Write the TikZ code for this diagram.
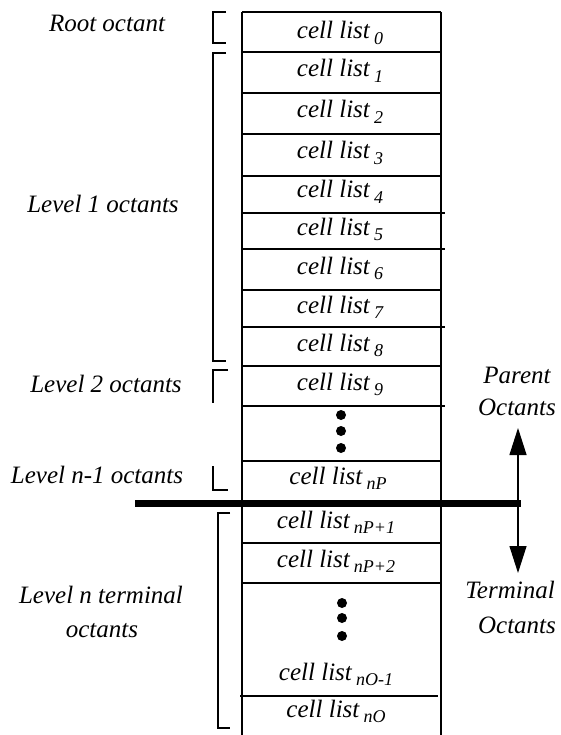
\documentclass[tikz,border=0pt]{standalone}
\usepackage{fontspec}
\setmainfont{Liberation Serif}
\usetikzlibrary{arrows.meta}
\newcommand{\cl}[1]{cell list\,\raisebox{-0.22em}{\fontsize{18}{18}\selectfont #1}}
\begin{document}
\begin{tikzpicture}[x=1pt,y=-1pt,
  lbl/.style={font=\fontsize{25}{30}\selectfont\itshape, inner sep=0pt, anchor=base},
  rowline/.style={line width=1.1pt},
  brk/.style={line width=2.4pt},
  dot/.style={circle, fill=black, inner sep=0pt, minimum size=10pt}]
\useasboundingbox (0,0) rectangle (560,735);
% outline
\draw[line width=2pt] (242,12) -- (441,12);
\draw[rowline] (242,12) -- (242,735);
\draw[rowline] (441,12) -- (441,735);
\foreach \y in {52,93,134,176,290,366,461,543,583} \draw[rowline] (242,\y) -- (441,\y);
\foreach \y in {213,249,327,406} \draw[rowline] (242,\y) -- (445,\y);
\draw[rowline] (240,696) -- (438,696);
% cells
\node[lbl] (c0) at (340,39) {\cl{0}};
\node[lbl] (c1) at (340,77) {\cl{1}};
\node[lbl] (c2) at (340,118) {\cl{2}};
\node[lbl] (c3) at (340,159) {\cl{3}};
\node[lbl] (c4) at (340,198) {\cl{4}};
\node[lbl] (c5) at (340,235) {\cl{5}};
\node[lbl] (c6) at (340,274) {\cl{6}};
\node[lbl] (c7) at (340,313) {\cl{7}};
\node[lbl] (c8) at (340,351) {\cl{8}};
\node[lbl] (c9) at (340,390) {\cl{9}};
\node[dot] (d1) at (341,415) {};
\node[dot] (d2) at (341,431) {};
\node[dot] (d3) at (341,448) {};
\node[lbl] (cnP) at (338,484) {\cl{nP}};
\node[lbl] (cnP1) at (336,528) {\cl{nP+1}};
\node[lbl] (cnP2) at (336,567) {\cl{nP+2}};
\node[dot] (d4) at (342,603) {};
\node[dot] (d5) at (342,618) {};
\node[dot] (d6) at (342,636) {};
\node[lbl] (cnO1) at (336,680) {\cl{nO-1}};
\node[lbl] (cnO) at (336,717) {\cl{nO}};
% separator
\coordinate (sl) at (135,503);
\coordinate (sr) at (521,503);
\draw[line width=7pt] (sl) -- (sr);
% arrows
\coordinate (ax) at (518,503);
\coordinate (up) at (518,428);
\coordinate (dn) at (518,573);
\draw[line width=1.2pt,-{Triangle[length=27pt,width=17pt]}] (ax) -- (up);
\draw[line width=1.2pt,-{Triangle[length=27pt,width=17pt]}] (ax) -- (dn);
% brackets
\draw[brk] (226,12) -- (213,12) -- (213,43) -- (226,43);
\draw[brk] (226,53) -- (213,53) -- (213,361) -- (226,361);
\draw[brk] (228,370) -- (213,370) -- (213,403);
\draw[brk] (213,466) -- (213,490) -- (228,490);
\draw[brk] (230,513) -- (218,513) -- (218,728) -- (230,728);
% left labels
\node[lbl] (root) at (107,32) {Root octant};
\node[lbl] (l1) at (103,213) {Level 1 octants};
\node[lbl] (l2) at (106,392) {Level 2 octants};
\node[lbl] (ln1) at (97,483) {Level n-1 octants};
\node[lbl] (ln) at (101,603) {Level n terminal};
\node[lbl] (lno) at (102,637) {octants};
% right labels
\node[lbl] (par) at (517,383) {Parent};
\node[lbl] (paro) at (517,415) {Octants};
\node[lbl] (ter) at (510,598) {Terminal};
\node[lbl] (tero) at (517,633) {Octants};
\end{tikzpicture}
\end{document}
